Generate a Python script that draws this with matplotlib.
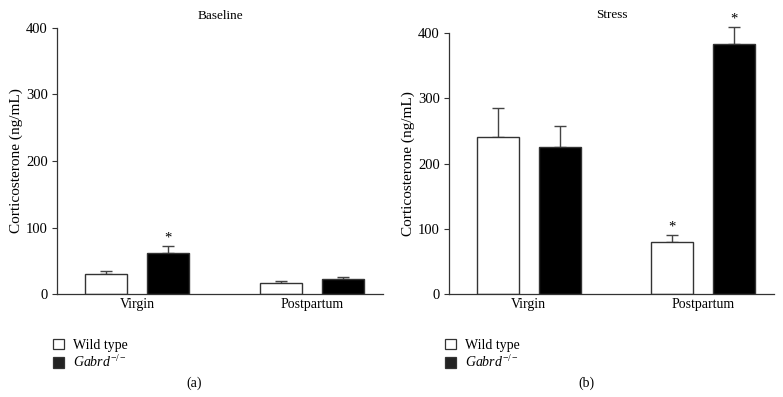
import numpy as np
import matplotlib.pyplot as plt
from matplotlib.patches import Patch

plt.rcParams["font.family"] = ["Liberation Serif", "DejaVu Serif"]
plt.rcParams["mathtext.fontset"] = "custom"
plt.rcParams["mathtext.rm"] = "Liberation Serif"
plt.rcParams["mathtext.it"] = "Liberation Serif:italic"

groups = ["Virgin", "Postpartum"]
series = ["Wild type", r"$\mathit{Gabrd}^{-/-}$"]

baseline_wt = [30, 17]
baseline_wt_err = [5, 3]
baseline_ko = [62, 22]
baseline_ko_err = [10, 3]
baseline_star_wt = [False, False]
baseline_star_ko = [True, False]

stress_wt = [240, 80]
stress_wt_err = [45, 10]
stress_ko = [225, 383]
stress_ko_err = [32, 27]
stress_star_wt = [False, True]
stress_star_ko = [False, True]

edge = "#333333"


def panel(ax, title, pad, wt, wt_err, ko, ko_err, star_wt, star_ko):
    x = np.arange(len(groups))
    off, w = 0.177, 0.24
    for xs, vals, errs, stars, fc in [(x - off, wt, wt_err, star_wt, "white"),
                                      (x + off, ko, ko_err, star_ko, "black")]:
        ax.bar(xs, vals, w, color=fc, edgecolor=edge, linewidth=1.0, zorder=2)
        ax.errorbar(xs, vals, yerr=[np.zeros(len(errs)), errs], fmt="none",
                    ecolor="#444444", elinewidth=1.0, capsize=4, capthick=1.0,
                    zorder=1, clip_on=False)
        for xi, v, e, s in zip(xs, vals, errs, stars):
            if s:
                ax.text(xi, v + e + 2, "*", ha="center", va="bottom", fontsize=10.5)
    ax.set_xlim(-0.457, 1.406)
    ax.set_ylim(0, 400)
    ax.set_yticks([0, 100, 200, 300, 400])
    ax.set_xticks(x)
    ax.set_xticklabels(groups, fontsize=10)
    ax.tick_params(axis="x", length=0, pad=3)
    ax.tick_params(axis="y", length=3.6, width=0.8, labelsize=10.5, pad=3, color=edge)
    for s in ["top", "right"]:
        ax.spines[s].set_visible(False)
    for s in ["left", "bottom"]:
        ax.spines[s].set_color(edge)
        ax.spines[s].set_linewidth(0.9)
    ax.set_ylabel("Corticosterone (ng/mL)", fontsize=11, labelpad=2)
    ax.set_title(title, fontsize=9.5, pad=pad)


fig = plt.figure(figsize=(7.83, 3.97), dpi=100)
ax1 = fig.add_axes([0.0728, 0.2594, 0.4163, 0.6701])
ax2 = fig.add_axes([0.5734, 0.2594, 0.4151, 0.6574])

panel(ax1, "Baseline", 6.5, baseline_wt, baseline_wt_err, baseline_ko, baseline_ko_err,
      baseline_star_wt, baseline_star_ko)
panel(ax2, "Stress", 11, stress_wt, stress_wt_err, stress_ko, stress_ko_err,
      stress_star_wt, stress_star_ko)

handles = [Patch(facecolor="white", edgecolor=edge, linewidth=0.9),
           Patch(facecolor="#222222", edgecolor=edge, linewidth=0.9)]
for xl, lab in [(57 / 783, "(a)"), (449 / 783, "(b)")]:
    fig.legend(handles, series, loc="upper left", bbox_to_anchor=(xl - 0.012, 1 - 333 / 397),
               frameon=False, handlelength=0.8, handleheight=0.8, handletextpad=0.6,
               labelspacing=0.2, fontsize=10, borderaxespad=0)
    fig.text(xl + 137 / 783, 1 - 383 / 397, lab, ha="center", va="center", fontsize=10)

fig.savefig("out.png", dpi=100)
